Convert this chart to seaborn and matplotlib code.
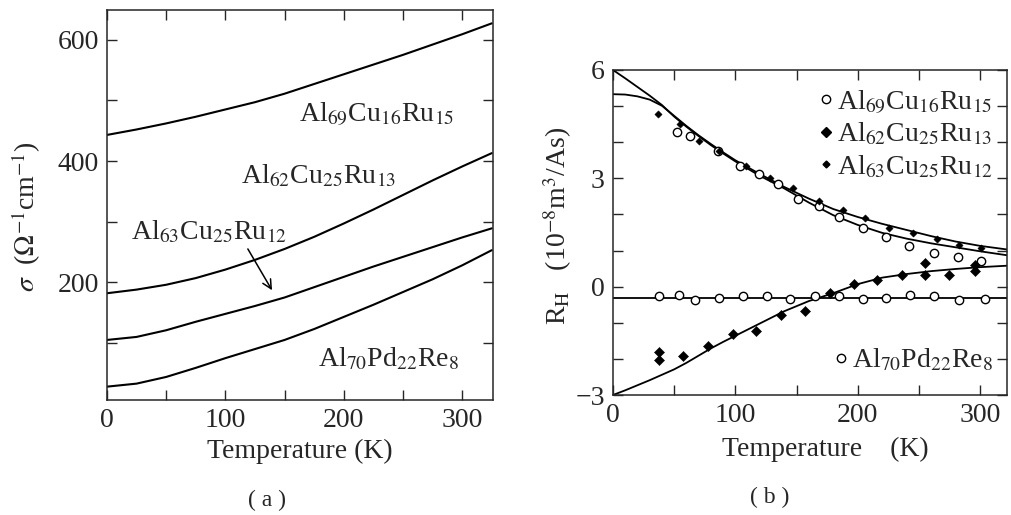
import matplotlib
matplotlib.use("Agg")
import matplotlib.pyplot as plt
import seaborn as sns
from matplotlib.lines import Line2D
from matplotlib.ticker import MultipleLocator

# ---------------- (a) electrical conductivity ----------------
temp_sigma = [0, 25, 50, 75, 100, 125, 150, 175, 200, 225, 250, 275, 300, 325]
sigma_al69 = [443, 452, 462, 473, 485, 497, 511, 527, 543, 559, 575, 592, 609, 627]
sigma_al62 = [182, 188, 196, 207, 221, 237, 255, 275, 297, 320, 344, 368, 391, 413]
sigma_al63 = [105, 110, 121, 135, 148, 161, 175, 192, 209, 226, 242, 258, 274, 289]
sigma_al70 = [28, 33, 44, 59, 75, 90, 105, 123, 143, 163, 184, 205, 228, 253]

# ---------------- (b) Hall coefficient ----------------
# fitted curves
temp_fit = [0, 10, 20, 30, 40, 50, 60, 70, 80, 90, 100, 120, 140, 160, 180,
            200, 220, 240, 260, 280, 300, 322]
fit_al69 = [6.00, 5.77, 5.53, 5.29, 5.03, 4.71, 4.43, 4.17, 3.92, 3.69, 3.47,
            3.07, 2.72, 2.33, 1.98, 1.71, 1.49, 1.33, 1.20, 1.09, 0.98, 0.87]
fit_al63 = [5.33, 5.32, 5.27, 5.18, 5.01, 4.73, 4.45, 4.19, 3.95, 3.72, 3.50,
            3.12, 2.76, 2.44, 2.15, 1.93, 1.74, 1.57, 1.40, 1.25, 1.13, 1.03]
fit_al62 = [-3.00, -2.87, -2.73, -2.59, -2.44, -2.29, -2.11, -1.91, -1.71, -1.53, -1.36,
            -1.02, -0.68, -0.40, -0.18, 0.07, 0.25, 0.35, 0.43, 0.49, 0.54, 0.58]
temp_fit_al70 = [0, 322]
fit_al70 = [-0.30, -0.30]

# measured points
t_al69 = [52, 63, 86, 104, 119, 135, 151, 168, 185, 204, 223, 242, 262, 282, 301]
rh_al69 = [4.27, 4.16, 3.76, 3.34, 3.13, 2.83, 2.44, 2.23, 1.94, 1.63, 1.38, 1.12,
           0.92, 0.82, 0.70]
t_al63 = [37, 55, 70, 87, 109, 128, 147, 168, 188, 206, 226, 245, 265, 283, 301]
rh_al63 = [4.78, 4.50, 4.04, 3.76, 3.34, 3.02, 2.74, 2.37, 2.12, 1.89, 1.63, 1.49,
           1.33, 1.15, 1.07]
t_al62 = [38, 38, 57, 78, 98, 117, 137, 157, 177, 197, 216, 236, 255, 255, 275, 296, 296]
rh_al62 = [-1.80, -2.03, -1.91, -1.63, -1.30, -1.24, -0.78, -0.66, -0.18, 0.08, 0.19,
           0.33, 0.31, 0.66, 0.31, 0.43, 0.61]
t_al70 = [38, 54, 67, 87, 106, 126, 145, 165, 185, 204, 223, 243, 262, 283, 304]
rh_al70 = [-0.27, -0.22, -0.38, -0.30, -0.27, -0.27, -0.33, -0.27, -0.25, -0.33,
           -0.30, -0.22, -0.25, -0.36, -0.33]

lbl_al69 = r"Al$_{69}$Cu$_{16}$Ru$_{15}$"
lbl_al62 = r"Al$_{62}$Cu$_{25}$Ru$_{13}$"
lbl_al63 = r"Al$_{63}$Cu$_{25}$Ru$_{12}$"
lbl_al70 = r"Al$_{70}$Pd$_{22}$Re$_{8}$"

sns.set_style("ticks")
plt.rcParams["font.family"] = ["Liberation Serif", "DejaVu Serif"]
plt.rcParams["mathtext.fontset"] = "stix"
plt.rcParams["axes.linewidth"] = 1.1

FS = 20
fig = plt.figure(figsize=(10.11, 5.15), dpi=100)
ax1 = fig.add_axes([0.1058, 0.2233, 0.3818, 0.7573])
ax2 = fig.add_axes([0.6063, 0.2330, 0.3897, 0.6311])

line_kw = dict(color="black", lw=1.5, estimator=None, errorbar=None, legend=False)

# ---- panel (a)
for vals in (sigma_al69, sigma_al62, sigma_al63, sigma_al70):
    sns.lineplot(x=temp_sigma, y=vals, ax=ax1, **line_kw)

ax1.set_xlim(0, 326)
ax1.set_ylim(6, 649)
ax1.xaxis.set_major_locator(MultipleLocator(100))
ax1.xaxis.set_minor_locator(MultipleLocator(50))
ax1.yaxis.set_major_locator(MultipleLocator(200))
ax1.yaxis.set_minor_locator(MultipleLocator(100))
ax1.set_xlabel("Temperature (K)", fontsize=FS)
ax1.set_ylabel(r"$\sigma$  ($\Omega^{-1}$cm$^{-1}$)", fontsize=FS)
ax1.yaxis.set_label_coords(-0.165, 0.47)

ax1.text(162, 465, lbl_al69, fontsize=FS, ha="left", va="baseline")
ax1.text(113, 363, lbl_al62, fontsize=FS, ha="left", va="baseline")
ax1.text(20, 270, lbl_al63, fontsize=FS, ha="left", va="baseline")
ax1.text(178, 61, lbl_al70, fontsize=FS, ha="left", va="baseline")
ax1.annotate("", xy=(140.6, 183), xytext=(117.8, 259),
             arrowprops=dict(arrowstyle="->", color="black", lw=1.1,
                             mutation_scale=16))

# ---- panel (b)
fit_kw = dict(line_kw, lw=1.3)
for vals in (fit_al69, fit_al63, fit_al62):
    sns.lineplot(x=temp_fit, y=vals, ax=ax2, **fit_kw)
sns.lineplot(x=temp_fit_al70, y=fit_al70, ax=ax2, **fit_kw)

open_kw = dict(marker="o", color="white", edgecolor="black", linewidth=1.0, s=36,
               legend=False, zorder=3)
sns.scatterplot(x=t_al69, y=rh_al69, ax=ax2, **open_kw)
sns.scatterplot(x=t_al70, y=rh_al70, ax=ax2, **open_kw)
sns.scatterplot(x=t_al63, y=rh_al63, ax=ax2, marker="D", color="black",
                edgecolor="black", s=14, legend=False, zorder=3)
sns.scatterplot(x=t_al62, y=rh_al62, ax=ax2, marker="D", color="black",
                edgecolor="black", s=26, legend=False, zorder=3)

ax2.set_xlim(0, 322)
ax2.set_ylim(-3, 6)
ax2.xaxis.set_major_locator(MultipleLocator(100))
ax2.xaxis.set_minor_locator(MultipleLocator(50))
ax2.yaxis.set_major_locator(MultipleLocator(3))
ax2.yaxis.set_minor_locator(MultipleLocator(1))
ax2.set_xlabel("Temperature    (K)", fontsize=FS)
ax2.xaxis.set_label_coords(0.54, -0.13)
ax2.set_ylabel(r"R$_{\rm H}$   (10$^{-8}$m$^{3}$/As)", fontsize=FS)
ax2.yaxis.set_label_coords(-0.10, 0.52)

h_open = Line2D([], [], ls="none", marker="o", mfc="white", mec="black", ms=6, mew=1)
h_big = Line2D([], [], ls="none", marker="D", mfc="black", mec="black", ms=5)
h_small = Line2D([], [], ls="none", marker="D", mfc="black", mec="black", ms=3.5)
leg_kw = dict(frameon=False, fontsize=FS, handlelength=0.5, handletextpad=0.15,
              borderaxespad=0.0, borderpad=0.0)
leg1 = ax2.legend([h_open, h_big, h_small], [lbl_al69, lbl_al62, lbl_al63],
                  loc="upper right", bbox_to_anchor=(0.965, 0.945),
                  labelspacing=0.2, **leg_kw)
ax2.add_artist(leg1)
ax2.legend([h_open], [lbl_al70], loc="lower right",
           bbox_to_anchor=(0.965, 0.065), **leg_kw)

for ax in (ax1, ax2):
    ax.tick_params(which="both", direction="in", top=True, right=True,
                   length=7, width=1.0, labelsize=FS, pad=6)
    for sp in ax.spines.values():
        sp.set_linewidth(1.1)

fig.text(267 / 1011, 1 - 500 / 515, "( a )", fontsize=17, ha="center", va="center")
fig.text(770 / 1011, 1 - 497 / 515, "( b )", fontsize=17, ha="center", va="center")

fig.savefig("out.png", dpi=100)
